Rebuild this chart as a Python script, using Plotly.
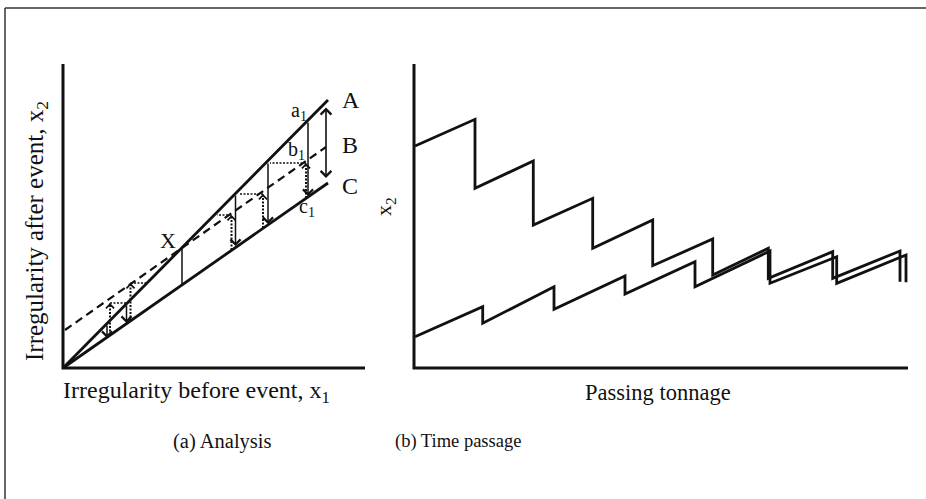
import plotly.graph_objects as go

W, H = 926, 499
FONT = "Liberation Serif"
INK = "#111111"

# ---------------- Panel (a): analysis (data units) ----------------
line_a_u = [0, 265]
line_a_v = [0, 268]
line_c_u = [0, 265]
line_c_v = [0, 185]
line_b_u = [2, 263]
line_b_v = [38, 221]

x_drop_u = [119, 119]
x_drop_v = [120, 83]

spread_u = 263
spread_top = 262
spread_bot = 190

# solid drops from A to C
drop_u = [245, 205, 172.5, 44, 63.5]
drop_top = [247, 206, 174, 44, 64]
drop_bot = [172, 144, 122, 30, 45]
# dotted rises from C to B
rise_u = [243, 200, 168.5, 47, 67.5]
rise_bot = [170, 140, 118, 33, 47]
rise_top = [205, 174, 153, 65, 85]
# dotted horizontal moves from B to A
shift_end_u = [207, 176, 154, 63, 84]

axis_a_len_u = 302
axis_a_len_v = 304

# ---------------- Panel (b): time passage (data units) ----------------
upper_t = [1, 61, 61, 119.3, 119.3, 178.7, 178.7, 238.7, 238.7, 298.7, 298.7,
           354.3, 354.3, 418.7, 418.7, 486, 486]
upper_w = [222, 248.7, 179.7, 207, 143, 169.7, 119.7, 148, 102.3, 129, 93,
           119.7, 89.7, 116.3, 89.7, 117, 86.3]
lower_t = [1, 68.7, 68.7, 140, 140, 211, 211, 281, 281, 356, 356,
           422.7, 422.7, 492, 492]
lower_w = [31.3, 61.3, 44.7, 81.3, 58.7, 92, 74, 106.3, 81.3, 117, 84.7,
           111.3, 84.7, 113, 85.7]

axis_b_len_t = 494
axis_b_len_w = 304

# ---------------- text ----------------
labels_a = ["A", "B", "C"]
labels_a_u = [288, 287, 287]
labels_a_v = [268, 223, 182]
labels_small = ["a<sub>1</sub>", "b<sub>1</sub>", "c<sub>1</sub>", "X"]
labels_small_u = [236, 233, 244, 105]
labels_small_v = [256, 218, 161, 128]

# ---------------- layout helpers (pixel -> paper) ----------------
def px(x):
    return x / W


def py(y):
    return 1 - y / H


fig = go.Figure()

# Panel (a) axes
fig.add_trace(go.Scatter(x=[0, 0, axis_a_len_u], y=[axis_a_len_v, 0, 0], mode="lines",
                         line=dict(color=INK, width=3), xaxis="x", yaxis="y"))
# lines A, C, B
fig.add_trace(go.Scatter(x=line_a_u, y=line_a_v, mode="lines",
                         line=dict(color=INK, width=2.8), xaxis="x", yaxis="y"))
fig.add_trace(go.Scatter(x=line_c_u, y=line_c_v, mode="lines",
                         line=dict(color=INK, width=2.8), xaxis="x", yaxis="y"))
fig.add_trace(go.Scatter(x=line_b_u, y=line_b_v, mode="lines",
                         line=dict(color=INK, width=2.2, dash="8px,5px"), xaxis="x", yaxis="y"))
fig.add_trace(go.Scatter(x=x_drop_u, y=x_drop_v, mode="lines",
                         line=dict(color=INK, width=1.5), xaxis="x", yaxis="y"))

annotations = []

# solid drop arrows
for u, t, b in zip(drop_u, drop_top, drop_bot):
    annotations.append(dict(x=u, y=b, ax=u, ay=t, xref="x", yref="y", axref="x", ayref="y",
                            text="", showarrow=True, arrowhead=4, arrowsize=1.3,
                            arrowwidth=1.5, arrowcolor=INK, standoff=0))

# dotted rises and shifts
for u, b, t, e in zip(rise_u, rise_bot, rise_top, shift_end_u):
    fig.add_trace(go.Scatter(x=[u, u], y=[b, t], mode="lines",
                             line=dict(color=INK, width=2, dash="2px,1.5px"),
                             xaxis="x", yaxis="y"))
    fig.add_trace(go.Scatter(x=[u, e], y=[t, t], mode="lines",
                             line=dict(color=INK, width=1.5, dash="2px,1.5px"),
                             xaxis="x", yaxis="y"))
    annotations.append(dict(x=u, y=t, ax=u, ay=t - 4, xref="x", yref="y", axref="x", ayref="y",
                            text="", showarrow=True, arrowhead=4, arrowsize=1.2,
                            arrowwidth=1.3, arrowcolor=INK, standoff=0))
    d = -3 if e < u else 3
    annotations.append(dict(x=e, y=t, ax=e - d, ay=t, xref="x", yref="y", axref="x", ayref="y",
                            text="", showarrow=True, arrowhead=4, arrowsize=1.2,
                            arrowwidth=1.3, arrowcolor=INK, standoff=0))

# double arrow A-C
annotations.append(dict(x=spread_u, y=spread_bot, ax=spread_u, ay=spread_top,
                        xref="x", yref="y", axref="x", ayref="y", text="", showarrow=True,
                        arrowhead=4, startarrowhead=4, arrowside="end+start", arrowsize=1.3,
                        startarrowsize=1.3, arrowwidth=1.6, arrowcolor=INK, standoff=0,
                        startstandoff=0))

for s, u, v in zip(labels_a, labels_a_u, labels_a_v):
    annotations.append(dict(x=u, y=v, xref="x", yref="y", text=s, showarrow=False,
                            font=dict(family=FONT, size=24, color=INK),
                            xanchor="center", yanchor="middle"))
for s, u, v in zip(labels_small, labels_small_u, labels_small_v):
    annotations.append(dict(x=u, y=v, xref="x", yref="y", text=s, showarrow=False,
                            font=dict(family=FONT, size=20 if s != "X" else 22, color=INK),
                            xanchor="center", yanchor="middle"))

# Panel (b)
fig.add_trace(go.Scatter(x=[0, 0, axis_b_len_t], y=[axis_b_len_w, 0, 0], mode="lines",
                         line=dict(color=INK, width=3), xaxis="x2", yaxis="y2"))
fig.add_trace(go.Scatter(x=upper_t, y=upper_w, mode="lines",
                         line=dict(color=INK, width=2.8), xaxis="x2", yaxis="y2"))
fig.add_trace(go.Scatter(x=lower_t, y=lower_w, mode="lines",
                         line=dict(color=INK, width=2.8), xaxis="x2", yaxis="y2"))

# axis titles and captions (paper positions)
texts = [
    ("Irregularity before event, x<sub>1</sub>", 196, 392, 24, 0),
    ("Irregularity after event, x<sub>2</sub>", 36, 231, 25, -90),
    ("Passing tonnage", 658, 392, 22.5, 0),
    ("x<sub>2</sub>", 385, 207, 22, -90),
    ("(a) Analysis", 222, 441, 20.5, 0),
    ("(b) Time passage", 458, 441, 18.5, 0),
]
for s, x, y, size, ang in texts:
    annotations.append(dict(x=px(x), y=py(y), xref="paper", yref="paper", text=s,
                            showarrow=False, textangle=ang,
                            font=dict(family=FONT, size=size, color=INK),
                            xanchor="center", yanchor="middle"))

shapes = [
    dict(type="line", xref="paper", yref="paper", x0=px(5), y0=py(8), x1=1, y1=py(8),
         line=dict(color="#333333", width=1.5)),
    dict(type="line", xref="paper", yref="paper", x0=px(5), y0=py(8), x1=px(5), y1=0,
         line=dict(color="#333333", width=1.5)),
]

hidden = dict(visible=False, showgrid=False, zeroline=False)
fig.update_layout(
    width=W, height=H,
    margin=dict(l=0, r=0, t=0, b=0),
    paper_bgcolor="white", plot_bgcolor="white",
    showlegend=False,
    xaxis=dict(domain=[px(40), px(380)], range=[-23, 317], **hidden),
    yaxis=dict(domain=[py(400), py(40)], range=[-32, 328], **hidden),
    xaxis2=dict(domain=[px(395), px(926)], range=[-19, 512], anchor="y2", **hidden),
    yaxis2=dict(domain=[py(400), py(40)], range=[-32, 328], anchor="x2", **hidden),
    annotations=annotations,
    shapes=shapes,
)

fig.write_html("out.html")
